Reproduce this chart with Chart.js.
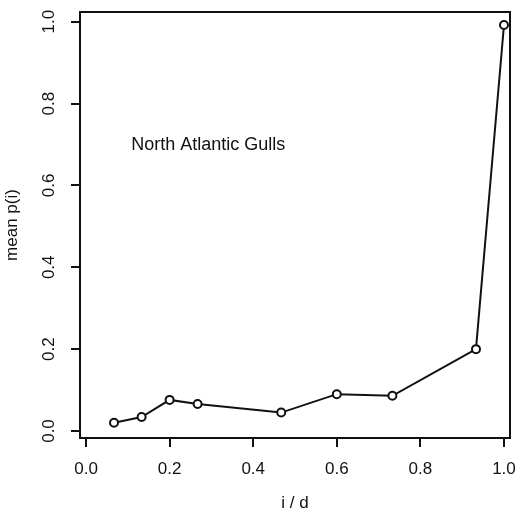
<!DOCTYPE html>
<html>
<head>
<meta charset="utf-8">
<script src="https://cdn.jsdelivr.net/npm/chart.js@4.4.1/dist/chart.umd.min.js"></script>
<style>
  html, body { margin: 0; padding: 0; background: #fff; }
  #wrap { width: 519px; height: 511px; }
</style>
</head>
<body>
<div id="wrap"><canvas id="gulls"></canvas></div>
<script>
// i / d positions (d = 15) and mean p(i)
const ratios = [0.067, 0.133, 0.2, 0.267, 0.467, 0.6, 0.733, 0.933, 1.0];
const meanP = [0.020, 0.034, 0.076, 0.066, 0.045, 0.090, 0.086, 0.200, 0.992];
const tickVals = [0, 0.2, 0.4, 0.6, 0.8, 1.0];
const tickText = ['0.0', '0.2', '0.4', '0.6', '0.8', '1.0'];
const xTitle = 'i / d';
const yTitle = 'mean p(i)';
const note = 'North Atlantic Gulls';

const FONT = '"Liberation Sans", Arial, Helvetica, sans-serif';
const INK = '#111';

// frame, rotated y labels, axis titles and the text label
const extras = {
  id: 'extras',
  afterDraw(chart) {
    const { ctx, chartArea: a, scales } = chart;
    ctx.save();
    ctx.strokeStyle = INK;
    ctx.lineWidth = 2;
    ctx.strokeRect(a.left, a.top, a.right - a.left, a.bottom - a.top);

    ctx.fillStyle = INK;
    ctx.font = '17px ' + FONT;
    ctx.textAlign = 'center';
    ctx.textBaseline = 'middle';
    scales.y.ticks.forEach((t, i) => {
      const y = scales.y.getPixelForValue(t.value);
      ctx.save();
      ctx.translate(49, y);
      ctx.rotate(-Math.PI / 2);
      ctx.fillText(tickText[i], 0, 0);
      ctx.restore();
    });

    ctx.fillText(xTitle, (a.left + a.right) / 2, 503);
    ctx.save();
    ctx.translate(12, (a.top + a.bottom) / 2);
    ctx.rotate(-Math.PI / 2);
    ctx.fillText(yTitle, 0, 0);
    ctx.restore();

    ctx.font = '18px ' + FONT;
    ctx.textAlign = 'left';
    ctx.fillText(note, scales.x.getPixelForValue(0.108), scales.y.getPixelForValue(0.699));
    ctx.restore();
  }
};

new Chart(document.getElementById('gulls'), {
  type: 'scatter',
  data: {
    datasets: [{
      data: ratios.map((r, i) => ({ x: r, y: meanP[i] })),
      showLine: true,
      borderColor: INK,
      borderWidth: 2,
      pointRadius: 4,
      pointBorderWidth: 2,
      pointBorderColor: INK,
      pointBackgroundColor: '#fff'
    }]
  },
  options: {
    responsive: true,
    maintainAspectRatio: false,
    animation: false,
    layout: { padding: { top: 12, right: 9, left: 0, bottom: 0 } },
    plugins: { legend: { display: false }, tooltip: { enabled: false } },
    scales: {
      x: {
        type: 'linear',
        min: -0.0144,
        max: 1.0144,
        afterBuildTicks: s => { s.ticks = tickVals.map(v => ({ value: v })); },
        afterFit: s => { s.height = 73; s.paddingLeft = 0; s.paddingRight = 0; },
        border: { display: false },
        grid: { drawOnChartArea: false, tickLength: 9, color: INK, lineWidth: 2 },
        ticks: {
          color: INK,
          padding: 12,
          maxRotation: 0,
          font: { family: FONT, size: 17 },
          callback: (v, i) => tickText[i]
        }
      },
      y: {
        type: 'linear',
        min: -0.0171,
        max: 1.0237,
        afterBuildTicks: s => { s.ticks = tickVals.map(v => ({ value: v })); },
        afterFit: s => { s.width = 80; s.paddingTop = 0; s.paddingBottom = 0; },
        border: { display: false },
        grid: { drawOnChartArea: false, tickLength: 9, color: INK, lineWidth: 2 },
        ticks: { display: false }
      }
    }
  },
  plugins: [extras]
});
</script>
</body>
</html>
